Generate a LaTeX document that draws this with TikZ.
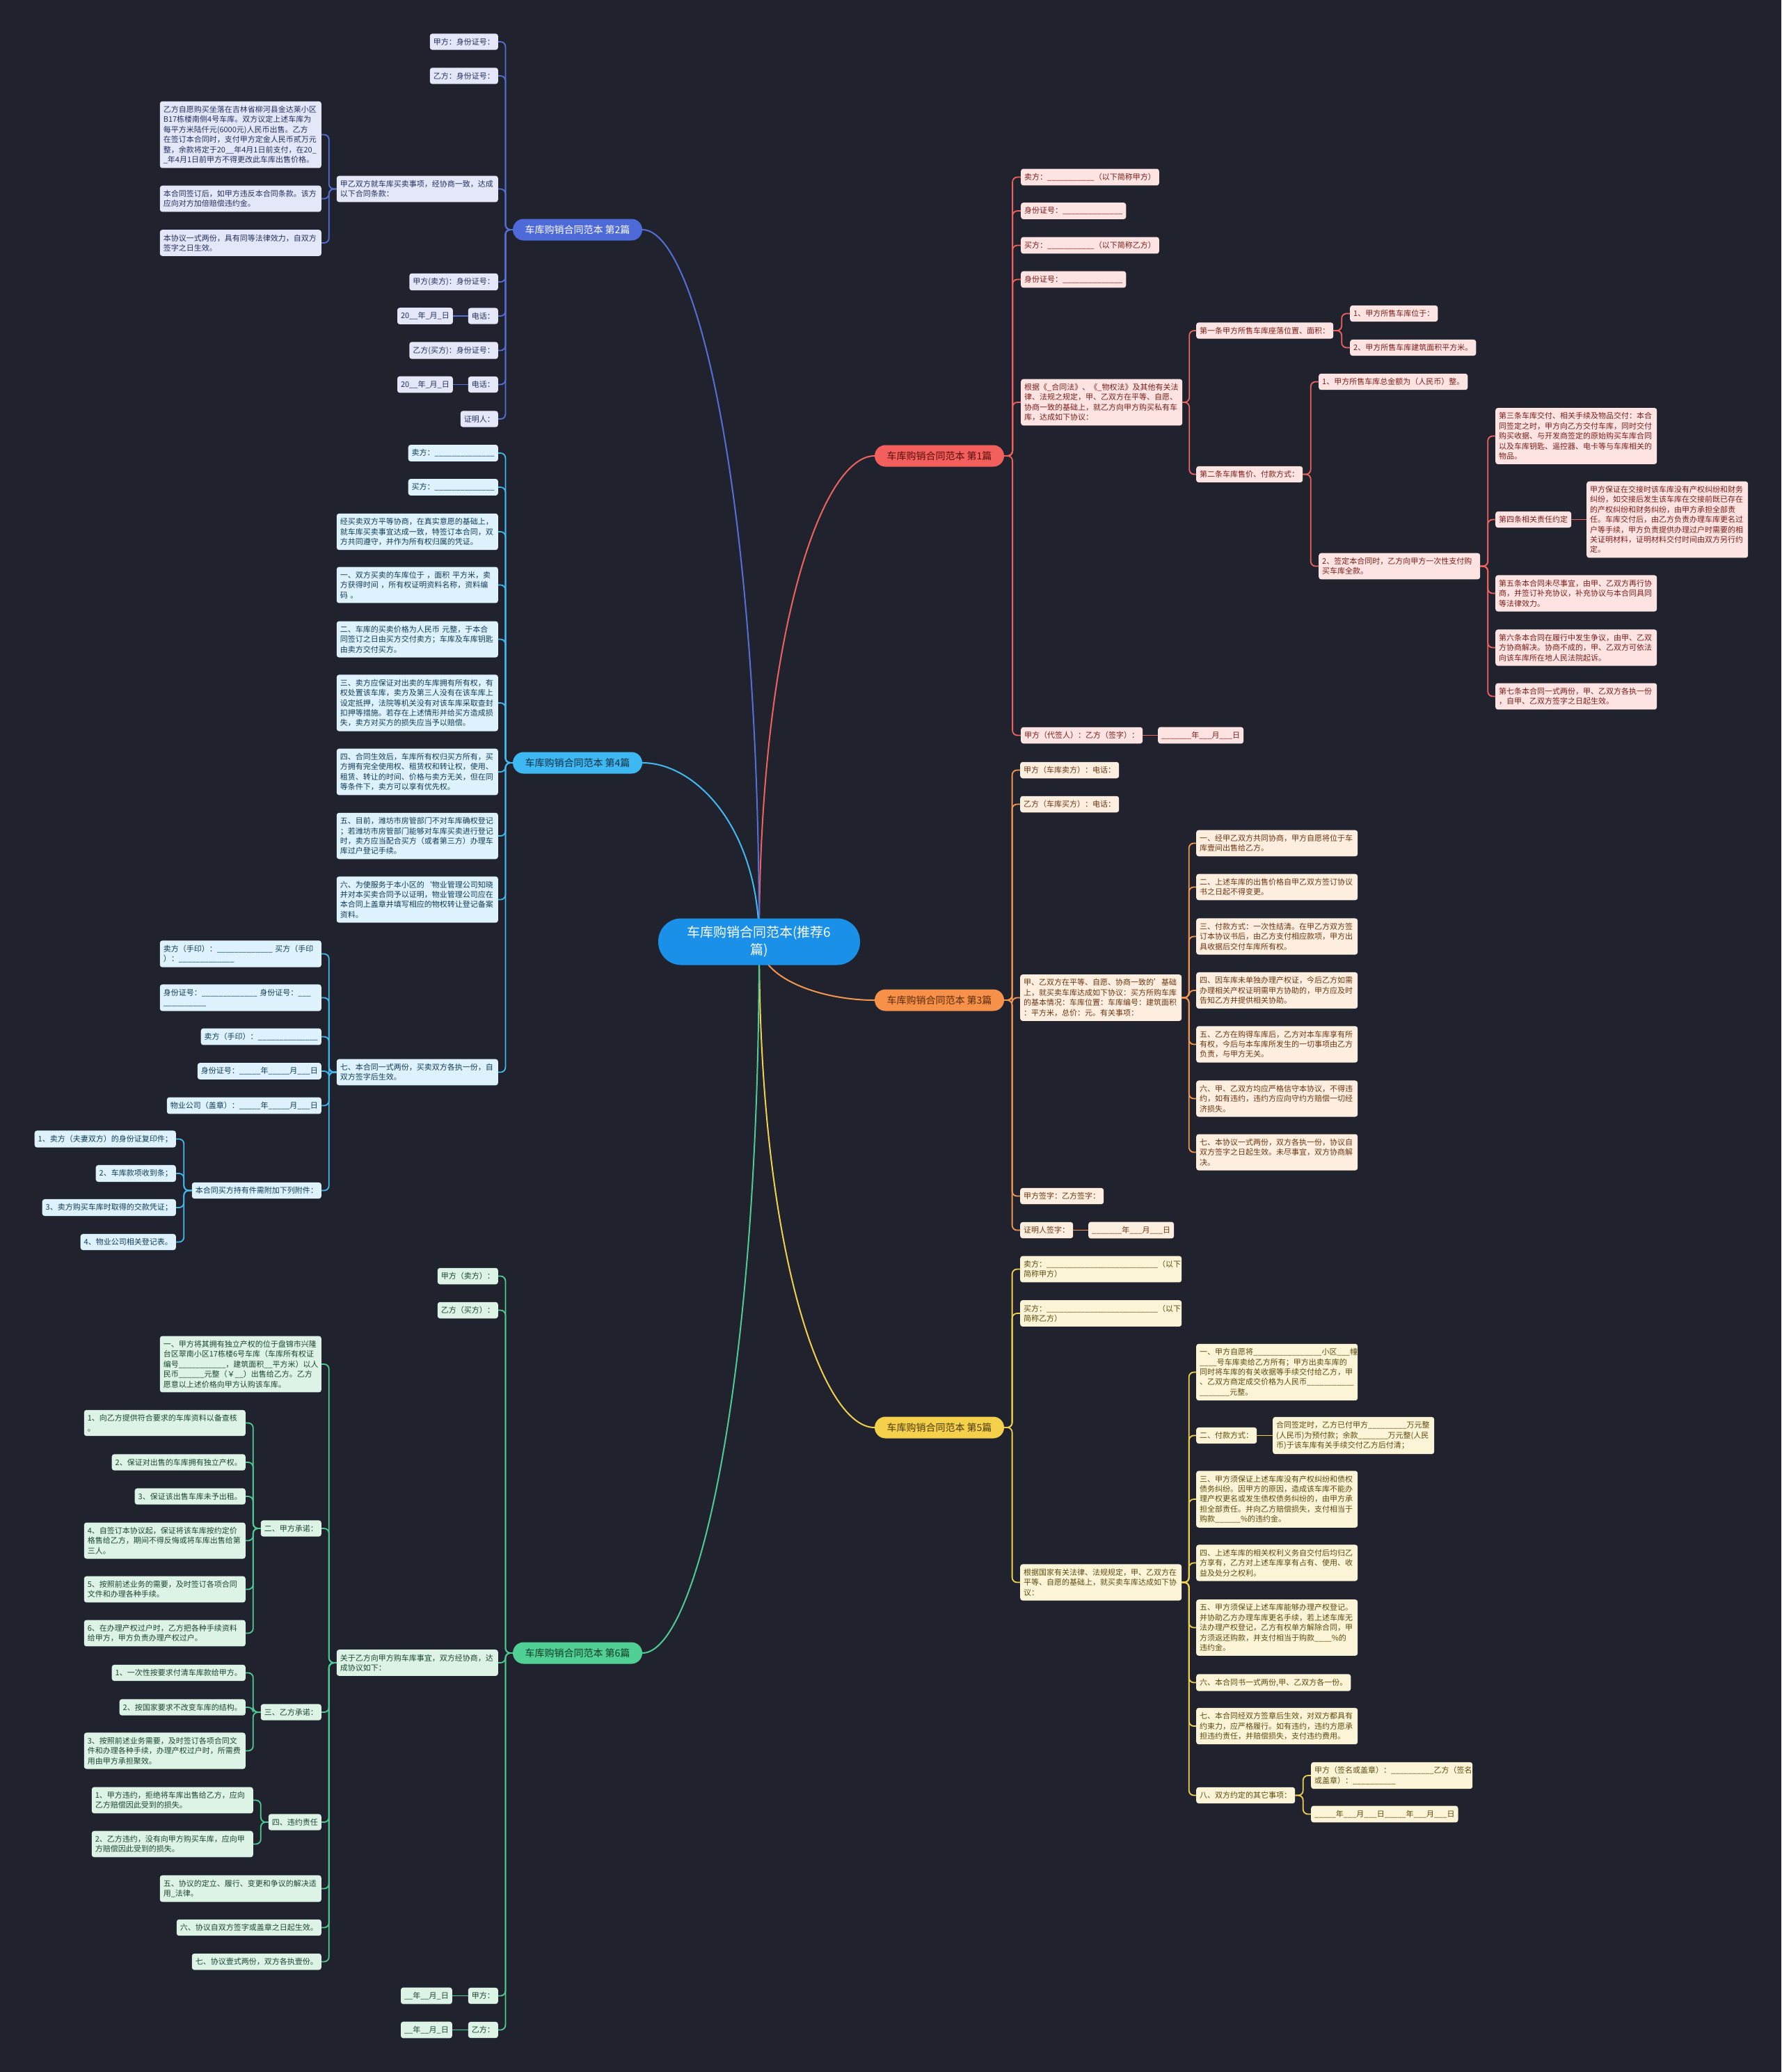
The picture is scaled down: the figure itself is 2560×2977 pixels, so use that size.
\documentclass[tikz,border=0pt]{standalone}
\usepackage{fontspec}
\setmainfont{Noto Sans CJK SC}
\usetikzlibrary{calc}
\pgfdeclarelayer{bg}
\pgfsetlayers{bg,main}
\definecolor{bgc}{HTML}{20232E}
\definecolor{rootc}{HTML}{1A90E8}
\definecolor{l1}{HTML}{F0625E}\definecolor{f1}{HTML}{FDE4E2}\definecolor{t1}{HTML}{7A1E1A}\definecolor{h1}{HTML}{F25F5C}\definecolor{k1}{HTML}{5C0E0C}
\definecolor{l2}{HTML}{5470D6}\definecolor{f2}{HTML}{E3E7F8}\definecolor{t2}{HTML}{26305E}\definecolor{h2}{HTML}{4E69D8}\definecolor{k2}{HTML}{FFFFFF}
\definecolor{l3}{HTML}{F3964F}\definecolor{f3}{HTML}{FDEEDF}\definecolor{t3}{HTML}{6B3612}\definecolor{h3}{HTML}{F7914A}\definecolor{k3}{HTML}{5A2A08}
\definecolor{l4}{HTML}{42B9F0}\definecolor{f4}{HTML}{DDF2FC}\definecolor{t4}{HTML}{133C57}\definecolor{h4}{HTML}{3DB8F2}\definecolor{k4}{HTML}{0E2E45}
\definecolor{l5}{HTML}{F0D04E}\definecolor{f5}{HTML}{FCF4D6}\definecolor{t5}{HTML}{5C4A10}\definecolor{h5}{HTML}{F5D04A}\definecolor{k5}{HTML}{4A3A05}
\definecolor{l6}{HTML}{4FCB93}\definecolor{f6}{HTML}{DCF3E6}\definecolor{t6}{HTML}{1E4532}\definecolor{h6}{HTML}{50D094}\definecolor{k6}{HTML}{103A26}
\newcommand\EL[3]{\draw[#1] (#2.west) -- ($(#2.west)!0.5!(#2.west -| #3.east)$) |- (#3.east);}
\newcommand\ER[3]{\draw[#1] (#2.east) -- ($(#2.east)!0.5!(#2.east -| #3.west)$) |- (#3.west);}
\newcommand\SL[3]{\draw[#1] (#2.west) -- (#3.east);}
\newcommand\SR[3]{\draw[#1] (#2.east) -- (#3.west);}
\newcommand\RC[2]{\draw[#1,line width=2pt] (root.center) .. controls ($(root.center)!0.63!(root.center |- #2)$) and ($(#2)!0.46!(#2 -| root.center)$) .. (#2);}
\tikzset{
 nd/.style={rounded corners=3.5pt, inner xsep=5pt, inner ysep=6.5pt, font=\fontsize{11}{14.4}\selectfont, align=left},
 L/.style={anchor=east}, R/.style={anchor=west},
 tw/.style={text width=222pt},
 s1/.style={nd, fill=f1, text=t1}, s2/.style={nd, fill=f2, text=t2}, s3/.style={nd, fill=f3, text=t3},
 s4/.style={nd, fill=f4, text=t4}, s5/.style={nd, fill=f5, text=t5}, s6/.style={nd, fill=f6, text=t6},
 ed/.style={line width=1.8pt, rounded corners=7pt},
 e1/.style={ed, draw=l1}, e2/.style={ed, draw=l2}, e3/.style={ed, draw=l3},
 e4/.style={ed, draw=l4}, e5/.style={ed, draw=l5}, e6/.style={ed, draw=l6},
 br/.style={rounded corners=15.5pt, minimum width=186pt, minimum height=31pt, inner sep=0pt, font=\fontsize{14}{16}\selectfont},
 rootn/.style={fill=rootc, text=white, rounded corners=33pt, minimum width=290pt, minimum height=67pt, text width=215pt, align=center, font=\fontsize{19}{25}\selectfont}
}
\begin{document}
\catcode`\_=12
\begin{tikzpicture}[x=1pt,y=-1pt]
\useasboundingbox (0,0) rectangle (2560,2977);
% root and branches
\node[rootn] (root) at (1091,1353) {车库购销合同范本(推荐6\\篇)};
\node[br, fill=h1, text=k1] (b1) at (1350,655) {车库购销合同范本 第1篇};
\node[br, fill=h2, text=k2] (b2) at (830,330) {车库购销合同范本 第2篇};
\node[br, fill=h3, text=k3] (b3) at (1350,1437) {车库购销合同范本 第3篇};
\node[br, fill=h4, text=k4] (b4) at (830,1096) {车库购销合同范本 第4篇};
\node[br, fill=h5, text=k5] (b5) at (1350,2051) {车库购销合同范本 第5篇};
\node[br, fill=h6, text=k6] (b6) at (830,2375) {车库购销合同范本 第6篇};
% ---------- branch 2
\node[s2,L] (b2a) at (716,60) {甲方：身份证号：};
\node[s2,L] (b2b) at (716,109) {乙方：身份证号：};
\node[s2,L,tw] (b2c) at (716,271.5) {甲乙双方就车库买卖事项，经协商一致，达成\\以下合同条款：};
\node[s2,L,tw] (b2c1) at (462,193.5) {乙方自愿购买坐落在吉林省柳河县金达莱小区\\B17栋楼南侧4号车库。双方议定上述车库为\\每平方米陆仟元(6000元)人民币出售。乙方\\在签订本合同时，支付甲方定金人民币贰万元\\整，余款将定于20__年4月1日前支付，在20_\\_年4月1日前甲方不得更改此车库出售价格。};
\node[s2,L,tw] (b2c2) at (462,285.5) {本合同签订后，如甲方违反本合同条款。该方\\应向对方加倍赔偿违约金。};
\node[s2,L,tw] (b2c3) at (462,349) {本协议一式两份，具有同等法律效力，自双方\\签字之日生效。};
\node[s2,L] (b2d) at (716,405) {甲方(卖方)：身份证号：};
\node[s2,L] (b2e) at (716,454) {电话：};
\node[s2,L] (b2e1) at (651,454) {20__年_月_日};
\node[s2,L] (b2f) at (716,503.5) {乙方(买方)：身份证号：};
\node[s2,L] (b2g) at (716,552.5) {电话：};
\node[s2,L] (b2g1) at (651,552.5) {20__年_月_日};
\node[s2,L] (b2h) at (716,602) {证明人：};
% ---------- branch 4
\node[s4,L] (b4a) at (716,651) {卖方：______________};
\node[s4,L] (b4b) at (716,700) {买方：______________};
\node[s4,L,tw] (b4c) at (716,764) {经买卖双方平等协商，在真实意愿的基础上，\\就车库买卖事宜达成一致，特签订本合同，双\\方共同遵守，并作为所有权归属的凭证。};
\node[s4,L,tw] (b4d) at (716,840.5) {一、双方买卖的车库位于 ，面积 平方米，卖\\方获得时间 ，所有权证明资料名称，资料编\\码 。};
\node[s4,L,tw] (b4e) at (716,918.5) {二、车库的买卖价格为人民币 元整，于本合\\同签订之日由买方交付卖方；车库及车库钥匙\\由卖方交付买方。};
\node[s4,L,tw] (b4f) at (716,1010) {三、卖方应保证对出卖的车库拥有所有权，有\\权处置该车库，卖方及第三人没有在该车库上\\设定抵押，法院等机关没有对该车库采取查封\\扣押等措施。若存在上述情形并给买方造成损\\失，卖方对买方的损失应当予以赔偿。};
\node[s4,L,tw] (b4g) at (716,1109) {四、合同生效后，车库所有权归买方所有，买\\方拥有完全使用权、租赁权和转让权，使用、\\租赁、转让的时间、价格与卖方无关，但在同\\等条件下，卖方可以享有优先权。};
\node[s4,L,tw] (b4h) at (716,1201) {五、目前，潍坊市房管部门不对车库确权登记\\；若潍坊市房管部门能够对车库买卖进行登记\\时，卖方应当配合买方（或者第三方）办理车\\库过户登记手续。};
\node[s4,L,tw] (b4i) at (716,1292.5) {六、为使服务于本小区的`物业管理公司知晓\\并对本买卖合同予以证明，物业管理公司应在\\本合同上盖章并填写相应的物权转让登记备案\\资料。};
\node[s4,L,tw] (b4j) at (716,1540.5) {七、本合同一式两份，买卖双方各执一份，自\\双方签字后生效。};
\node[s4,L,tw] (b4j1) at (462,1370.5) {卖方（手印）：_____________~买方（手印\\）：_____________};
\node[s4,L,tw] (b4j2) at (462,1433.5) {身份证号：_____________~身份证号：___\\__________};
\node[s4,L] (b4j3) at (462,1489.5) {卖方（手印）：______________};
\node[s4,L] (b4j4) at (462,1539) {身份证号：_____年_____月___日};
\node[s4,L] (b4j5) at (462,1588.5) {物业公司（盖章）：_____年_____月___日};
\node[s4,L] (b4j6) at (462,1710.5) {本合同买方持有件需附加下列附件：};
\node[s4,L] (b4k1) at (253,1636.5) {1、卖方（夫妻双方）的身份证复印件；};
\node[s4,L] (b4k2) at (253,1686) {2、车库款项收到条；};
\node[s4,L] (b4k3) at (253,1735) {3、卖方购买车库时取得的交款凭证；};
\node[s4,L] (b4k4) at (253,1784.5) {4、物业公司相关登记表。};
% ---------- branch 6
\node[s6,L] (b6a) at (716,1833.5) {甲方（卖方）：};
\node[s6,L] (b6b) at (716,1882.5) {乙方（买方）：};
\node[s6,L,tw] (b6c) at (716,2389) {关于乙方向甲方购车库事宜，双方经协商，达\\成协议如下：};
\node[s6,L,tw] (b6c1) at (462,1960) {一、甲方将其拥有独立产权的位于盘锦市兴隆\\台区翠南小区17栋楼6号车库（车库所有权证\\编号___________，建筑面积__平方米）以人\\民币______元整（￥__）出售给乙方。乙方\\愿意以上述价格向甲方认购该车库。};
\node[s6,L] (b6c2) at (462,2196) {二、甲方承诺：};
\node[s6,L,tw] (b6d1) at (353,2044.5) {1、向乙方提供符合要求的车库资料以备查核\\。};
\node[s6,L] (b6d2) at (353,2101) {2、保证对出售的车库拥有独立产权。};
\node[s6,L] (b6d3) at (353,2150) {3、保证该出售车库未予出租。};
\node[s6,L,tw] (b6d4) at (353,2213.5) {4、自签订本协议起，保证将该车库按约定价\\格售给乙方，期间不得反悔或将车库出售给第\\三人。};
\node[s6,L,tw] (b6d5) at (353,2283.5) {5、按照前述业务的需要，及时签订各项合同\\文件和办理各种手续。};
\node[s6,L,tw] (b6d6) at (353,2346.5) {6、在办理产权过户时，乙方把各种手续资料\\给甲方，甲方负责办理产权过户。};
\node[s6,L] (b6c3) at (462,2460) {三、乙方承诺：};
\node[s6,L] (b6e1) at (353,2403.5) {1、一次性按要求付清车库款给甲方。};
\node[s6,L] (b6e2) at (353,2453) {2、按国家要求不改变车库的结构。};
\node[s6,L,tw] (b6e3) at (353,2515.5) {3、按照前述业务需要，及时签订各项合同文\\件和办理各种手续，办理产权过户时，所需费\\用由甲方承担聚效。};
\node[s6,L] (b6c4) at (462,2618) {四、违约责任};
\node[s6,L,tw] (b6f1) at (364,2586.5) {1、甲方违约，拒绝将车库出售给乙方，应向\\乙方赔偿因此受到的损失。};
\node[s6,L,tw] (b6f2) at (364,2649.5) {2、乙方违约，没有向甲方购买车库，应向甲\\方赔偿因此受到的损失。};
\node[s6,L,tw] (b6c5) at (462,2713.5) {五、协议的定立、履行、变更和争议的解决适\\用_法律。};
\node[s6,L] (b6c6) at (462,2769.5) {六、协议自双方签字或盖章之日起生效。};
\node[s6,L] (b6c7) at (462,2818.5) {七、协议壹式两份，双方各执壹份。};
\node[s6,L] (b6g) at (716,2867.5) {甲方：};
\node[s6,L] (b6g1) at (650,2867.5) {__年__月_日};
\node[s6,L] (b6h) at (716,2916.5) {乙方：};
\node[s6,L] (b6h1) at (650,2916.5) {__年__月_日};
% ---------- branch 1
\node[s1,R] (b1a) at (1467,254.5) {卖方：___________（以下简称甲方）};
\node[s1,R] (b1b) at (1467,303) {身份证号：______________};
\node[s1,R] (b1c) at (1467,352.5) {买方：___________（以下简称乙方）};
\node[s1,R] (b1d) at (1467,401.5) {身份证号：______________};
\node[s1,R,tw] (b1e) at (1467,578) {根据《_合同法》、《_物权法》及其他有关法\\律、法规之规定，甲、乙双方在平等、自愿、\\协商一致的基础上，就乙方向甲方购买私有车\\库，达成如下协议：};
\node[s1,R] (b1f) at (1719,475) {第一条甲方所售车库座落位置、面积：};
\node[s1,R] (b1f1) at (1940,450.5) {1、甲方所售车库位于：};
\node[s1,R] (b1f2) at (1940,499.5) {2、甲方所售车库建筑面积平方米。};
\node[s1,R] (b1g) at (1719,681.5) {第二条车库售价、付款方式：};
\node[s1,R] (b1g1) at (1895,548.5) {1、甲方所售车库总金额为（人民币）整。};
\node[s1,R,tw] (b1g2) at (1895,813.5) {2、签定本合同时，乙方向甲方一次性支付购\\买车库全款。};
\node[s1,R,tw] (b1h1) at (2149,626.5) {第三条车库交付、相关手续及物品交付：本合\\同签定之时，甲方向乙方交付车库，同时交付\\购买收据、与开发商签定的原始购买车库合同\\以及车库钥匙、遥控器、电卡等与车库相关的\\物品。};
\node[s1,R] (b1h2) at (2149,746.5) {第四条相关责任约定};
\node[s1,R,tw] (b1h2a) at (2280,746.5) {甲方保证在交接时该车库没有产权纠纷和财务\\纠纷，如交接后发生该车库在交接前既已存在\\的产权纠纷和财务纠纷，由甲方承担全部责\\任。车库交付后，由乙方负责办理车库更名过\\户等手续，甲方负责提供办理过户时需要的相\\关证明材料，证明材料交付时间由双方另行约\\定。};
\node[s1,R,tw] (b1h3) at (2149,852.5) {第五条本合同未尽事宜，由甲、乙双方再行协\\商，并签订补充协议，补充协议与本合同具同\\等法律效力。};
\node[s1,R,tw] (b1h4) at (2149,930.5) {第六条本合同在履行中发生争议，由甲、乙双\\方协商解决。协商不成的，甲、乙双方可依法\\向该车库所在地人民法院起诉。};
\node[s1,R,tw] (b1h5) at (2149,1000.5) {第七条本合同一式两份，甲、乙双方各执一份\\，自甲、乙双方签字之日起生效。};
\node[s1,R] (b1i) at (1467,1056.5) {甲方（代签人）：乙方（签字）：};
\node[s1,R] (b1i1) at (1664,1056.5) {_______年___月___日};
% ---------- branch 3
\node[s3,R] (b3a) at (1466,1106.5) {甲方（车库卖方）：电话：};
\node[s3,R] (b3b) at (1466,1155.5) {乙方（车库买方）：电话：};
\node[s3,R,tw] (b3c) at (1466,1433.5) {甲、乙双方在平等、自愿、协商一致的'基础\\上，就买卖车库达成如下协议：买方所购车库\\的基本情况：车库位置：车库编号：建筑面积\\：平方米，总价：元。有关事项：};
\node[s3,R,tw] (b3c1) at (1719,1211.5) {一、经甲乙双方共同协商，甲方自愿将位于车\\库壹间出售给乙方。};
\node[s3,R,tw] (b3c2) at (1719,1274.5) {二、上述车库的出售价格自甲乙双方签订协议\\书之日起不得变更。};
\node[s3,R,tw] (b3c3) at (1719,1345.5) {三、付款方式：一次性结清。在甲乙方双方签\\订本协议书后，由乙方支付相应款项，甲方出\\具收据后交付车库所有权。};
\node[s3,R,tw] (b3c4) at (1719,1423) {四、因车库未单独办理产权证，今后乙方如需\\办理相关产权证明需甲方协助的，甲方应及时\\告知乙方并提供相关协助。};
\node[s3,R,tw] (b3c5) at (1719,1500.5) {五、乙方在购得车库后，乙方对本车库享有所\\有权，今后与本车库所发生的一切事项由乙方\\负责，与甲方无关。};
\node[s3,R,tw] (b3c6) at (1719,1578.5) {六、甲、乙双方均应严格信守本协议，不得违\\约，如有违约，违约方应向守约方赔偿一切经\\济损失。};
\node[s3,R,tw] (b3c7) at (1719,1655.5) {七、本协议一式两份，双方各执一份，协议自\\双方签字之日起生效。未尽事宜，双方协商解\\决。};
\node[s3,R] (b3d) at (1466,1718.5) {甲方签字：乙方签字：};
\node[s3,R] (b3e) at (1466,1767.5) {证明人签字：};
\node[s3,R] (b3e1) at (1564,1767.5) {_______年___月___日};
% ---------- branch 5
\node[s5,R,tw] (b5a) at (1466,1823.5) {卖方：__________________________（以下\\简称甲方）};
\node[s5,R,tw] (b5b) at (1466,1887) {买方：__________________________（以下\\简称乙方）};
\node[s5,R,tw] (b5c) at (1466,2273.5) {根据国家有关法律、法规规定，甲、乙双方在\\平等、自愿的基础上，就买卖车库达成如下协\\议：};
\node[s5,R,tw] (b5c1) at (1719,1971.5) {一、甲方自愿将________________小区___幢\\____号车库卖给乙方所有；甲方出卖车库的\\同时将车库的有关收据等手续交付给乙方，甲\\、乙双方商定成交价格为人民币___________\\_______元整。};
\node[s5,R] (b5c2) at (1719,2062.5) {二、付款方式：};
\node[s5,R,tw] (b5c2a) at (1829,2062.5) {合同签定时，乙方已付甲方_________万元整\\(人民币)为预付款；余款_______万元整(人民\\币)于该车库有关手续交付乙方后付清；};
\node[s5,R,tw] (b5c3) at (1719,2154) {三、甲方须保证上述车库没有产权纠纷和债权\\债务纠纷。因甲方的原因，造成该车库不能办\\理产权更名或发生债权债务纠纷的，由甲方承\\担全部责任。并向乙方赔偿损失，支付相当于\\购款______\%的违约金。};
\node[s5,R,tw] (b5c4) at (1719,2245.5) {四、上述车库的相关权利义务自交付后均归乙\\方享有，乙方对上述车库享有占有、使用、收\\益及处分之权利。};
\node[s5,R,tw] (b5c5) at (1719,2338.5) {五、甲方须保证上述车库能够办理产权登记。\\并协助乙方办理车库更名手续，若上述车库无\\法办理产权登记，乙方有权单方解除合同，甲\\方须返还购款，并支付相当于购款____\%的\\违约金。};
\node[s5,R] (b5c6) at (1719,2417.5) {六、本合同书一式两份,甲、乙双方各一份。};
\node[s5,R,tw] (b5c7) at (1719,2480) {七、本合同经双方签章后生效，对双方都具有\\约束力，应严格履行。如有违约，违约方愿承\\担违约责任，并赔偿损失，支付违约费用。};
\node[s5,R] (b5c8) at (1719,2579.5) {八、双方约定的其它事项：};
\node[s5,R,tw] (b5c8a) at (1884,2551) {甲方（签名或盖章）：__________乙方（签名\\或盖章）：__________};
\node[s5,R] (b5c8b) at (1884,2606.5) {_____年___月___日_____年___月___日};
% ---------- connectors
\begin{pgfonlayer}{bg}
\fill[bgc] (0,0) rectangle (2560,2977);
\RC{l1}{b1.west}
\RC{l2}{b2.east}
\RC{l3}{b3.west}
\RC{l4}{b4.east}
\RC{l5}{b5.west}
\RC{l6}{b6.east}
\foreach \c in {b2a,b2b,b2c,b2d,b2e,b2f,b2g,b2h} {\EL{e2}{b2}{\c}}
\foreach \c in {b2c1,b2c2,b2c3} {\EL{e2}{b2c}{\c}}
\SL{e2}{b2e}{b2e1}
\SL{e2}{b2g}{b2g1}
\foreach \c in {b4a,b4b,b4c,b4d,b4e,b4f,b4g,b4h,b4i,b4j} {\EL{e4}{b4}{\c}}
\foreach \c in {b4j1,b4j2,b4j3,b4j4,b4j5,b4j6} {\EL{e4}{b4j}{\c}}
\foreach \c in {b4k1,b4k2,b4k3,b4k4} {\EL{e4}{b4j6}{\c}}
\foreach \c in {b6a,b6b,b6c,b6g,b6h} {\EL{e6}{b6}{\c}}
\foreach \c in {b6c1,b6c2,b6c3,b6c4,b6c5,b6c6,b6c7} {\EL{e6}{b6c}{\c}}
\foreach \c in {b6d1,b6d2,b6d3,b6d4,b6d5,b6d6} {\EL{e6}{b6c2}{\c}}
\foreach \c in {b6e1,b6e2,b6e3} {\EL{e6}{b6c3}{\c}}
\foreach \c in {b6f1,b6f2} {\EL{e6}{b6c4}{\c}}
\SL{e6}{b6g}{b6g1}
\SL{e6}{b6h}{b6h1}
\foreach \c in {b1a,b1b,b1c,b1d,b1e,b1i} {\ER{e1}{b1}{\c}}
\foreach \c in {b1f,b1g} {\ER{e1}{b1e}{\c}}
\foreach \c in {b1f1,b1f2} {\ER{e1}{b1f}{\c}}
\foreach \c in {b1g1,b1g2} {\ER{e1}{b1g}{\c}}
\foreach \c in {b1h1,b1h2,b1h3,b1h4,b1h5} {\ER{e1}{b1g2}{\c}}
\SR{e1}{b1h2}{b1h2a}
\SR{e1}{b1i}{b1i1}
\foreach \c in {b3a,b3b,b3c,b3d,b3e} {\ER{e3}{b3}{\c}}
\foreach \c in {b3c1,b3c2,b3c3,b3c4,b3c5,b3c6,b3c7} {\ER{e3}{b3c}{\c}}
\SR{e3}{b3e}{b3e1}
\foreach \c in {b5a,b5b,b5c} {\ER{e5}{b5}{\c}}
\foreach \c in {b5c1,b5c2,b5c3,b5c4,b5c5,b5c6,b5c7,b5c8} {\ER{e5}{b5c}{\c}}
\SR{e5}{b5c2}{b5c2a}
\foreach \c in {b5c8a,b5c8b} {\ER{e5}{b5c8}{\c}}
\end{pgfonlayer}
\end{tikzpicture}
\end{document}
